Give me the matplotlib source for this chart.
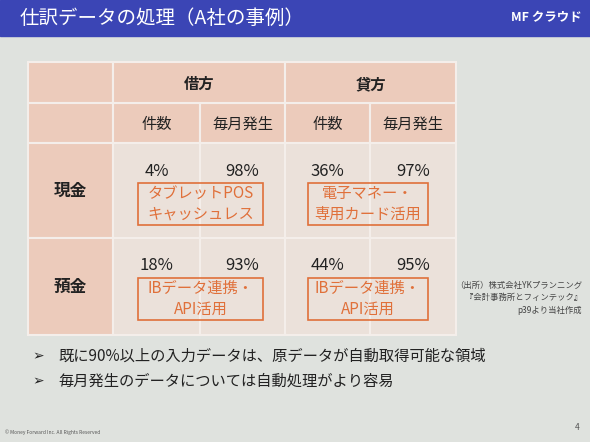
import matplotlib
matplotlib.use("Agg")
import matplotlib.pyplot as plt
from matplotlib.patches import Rectangle

plt.rcParams['font.family'] = ['Noto Sans CJK JP', 'DejaVu Sans']

title = "仕訳データの処理（A社の事例）"
groups = ["借方", "貸方"]
subheads = ["件数", "毎月発生", "件数", "毎月発生"]
rows = ["現金", "預金"]
values = [["4%", "98%", "36%", "97%"], ["18%", "93%", "44%", "95%"]]
notes = [["タブレットPOS\nキャッシュレス", "電子マネー・\n専用カード活用"],
         ["IBデータ連携・\nAPI活用", "IBデータ連携・\nAPI活用"]]
bullets = ["既に90%以上の入力データは、原データが自動取得可能な領域",
           "毎月発生のデータについては自動処理がより容易"]
source = "（出所）株式会社YKプランニング\n『会計事務所とフィンテック』\np39より当社作成"

W, H = 590, 442
fig = plt.figure(figsize=(W/100, H/100), dpi=100)
ax = fig.add_axes([0, 0, 1, 1])
ax.set_xlim(0, W); ax.set_ylim(H, 0); ax.axis('off')

ax.add_patch(Rectangle((0, 0), W, H, color='#dfe2de'))
ax.add_patch(Rectangle((0, 0), W, 36, color='#3b45b5'))
ax.text(20, 18, title, color='white', fontsize=14, va='center')
ax.text(582, 18, "MF クラウド", color='white', fontsize=9, va='center', ha='right', weight='bold')

xs = [28, 113, 200, 285, 370, 456]
ys = [62, 103, 143, 238, 335]
pink = '#eccbbb'; light = '#ebe1da'
for i in range(4):
    for j in range(5):
        c = pink if (i < 2 or j == 0) else light
        ax.add_patch(Rectangle((xs[j], ys[i]), xs[j+1]-xs[j], ys[i+1]-ys[i],
                               facecolor=c, edgecolor='#f4eeea', lw=1.5))
# cover inner group line in header row
for g in range(2):
    x0, x1 = xs[1+2*g], xs[3+2*g]
    ax.add_patch(Rectangle((x0, ys[0]), x1-x0, ys[1]-ys[0], facecolor=pink, edgecolor='#f4eeea', lw=1.5))
    ax.text((x0+x1)/2, 84, groups[g], ha='center', va='center', fontsize=11, weight='bold', color='#222')
for j, s in enumerate(subheads):
    ax.text((xs[j+1]+xs[j+2])/2, 124, s, ha='center', va='center', fontsize=11, color='#222')
for r in range(2):
    y0, y1 = ys[2+r], ys[3+r]
    ax.text(70, (y0+y1)/2, rows[r], ha='center', va='center', fontsize=12, weight='bold', color='#222')
    for j in range(4):
        ax.text((xs[j+1]+xs[j+2])/2, y0+28, values[r][j], ha='center', va='center', fontsize=12, color='#222')
    for g in range(2):
        bx0 = [138, 308][g]; bx1 = [263, 428][g]
        by0 = y0 + 40; by1 = y0 + 82
        ax.add_patch(Rectangle((bx0, by0), bx1-bx0, by1-by0, facecolor='none', edgecolor='#e0703a', lw=1.2))
        ax.text((bx0+bx1)/2, (by0+by1)/2, notes[r][g], ha='center', va='center',
                fontsize=11, color='#e0703a', linespacing=1.3)

ax.text(582, 298, source, ha='right', va='center', fontsize=6, color='#444', linespacing=1.5)
for k, b in enumerate(bullets):
    y = 356 + 25*k
    ax.text(32, y, "➢", ha='left', va='center', fontsize=10, color='#222', family=['DejaVu Sans'])
    ax.text(58, y, b, ha='left', va='center', fontsize=11, color='#222')
ax.text(5, 432, "© Money Forward Inc. All Rights Reserved", fontsize=3.5, color='#555', va='center')
ax.text(580, 427, "4", fontsize=6, color='#555', va='center', ha='right')

fig.savefig("out.png", dpi=100)
